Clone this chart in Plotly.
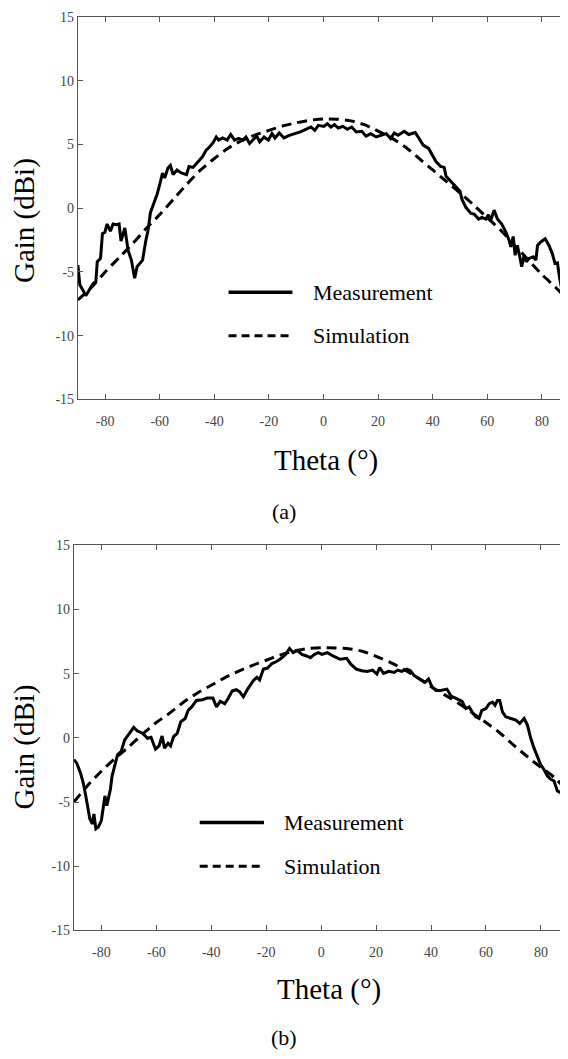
import plotly.graph_objects as go

THETA_A_MEAS = [-90, -89.3, -88.0, -87.1, -85.4, -84.4, -83.4, -82.9, -81.7, -81.0, -80.1, -79.3, -78.1,
                -77.1, -75.8, -74.9, -74.2, -73.4, -72.8, -71.6, -70.4, -69.2, -68.3, -67.3, -66.3, -65.1,
                -64.3, -63.4, -62.2, -61.0, -60.0, -59.0, -58.2, -57.0, -56.1, -55.1, -53.7, -52.1, -50.2,
                -49.3, -47.8, -45.9, -44.3, -43.0, -41.7, -40.3, -39.3, -38.4, -37.0, -35.3, -34.0, -32.6,
                -31.1, -29.5, -28.4, -27.1, -25.8, -24.5, -23.4, -21.8, -20.2, -18.9, -17.8, -16.2, -14.5,
                -12.5, -10.5, -8.5, -6.5, -4.6, -3.2, -1.9, 0.1, 1.4, 2.7, 4.0, 5.4, 7.1, 8.7, 10.3, 12.0,
                14.0, 15.6, 17.3, 19.3, 21.3, 23.0, 24.6, 25.9, 27.3, 29.6, 31.2, 33.6, 34.9, 36.5, 38.5,
                39.8, 41.2, 42.9, 44.2, 44.9, 46.7, 48.5, 50.0, 50.7, 52.2, 54.0, 55.2, 56.8, 58.0, 59.5,
                60.4, 61.3, 62.5, 63.7, 65.3, 66.8, 68.0, 68.6, 69.5, 70.2, 71.0, 71.9, 72.6, 73.5, 74.3,
                75.3, 76.8, 77.8, 78.4, 79.6, 81.2, 82.6, 83.8, 84.8, 85.7, 86.5, 87.3, 88.0, 88.4, 88.8, 90]
GAIN_A_MEAS = [-4.46, -6.0, -6.5, -6.86, -6.26, -5.9, -5.75, -4.2, -3.94, -2.0, -1.88, -1.24, -1.8,
               -1.24, -1.29, -1.24, -2.58, -2.0, -1.55, -3.3, -4.07, -5.49, -4.59, -4.33, -4.07, -2.53,
               -1.75, -0.33, 0.31, 1.08, 1.86, 2.76, 2.37, 3.15, 3.35, 2.63, 3.0, 2.76, 2.63,
               3.27, 3.2, 3.66, 4.05, 4.56, 4.82, 5.2, 5.59, 5.34, 5.51, 5.34, 5.78, 5.34,
               5.47, 5.34, 5.59, 5.08, 5.34, 5.67, 5.2, 5.59, 5.34, 5.85, 5.51, 5.9, 5.51,
               5.72, 5.85, 5.98, 6.19, 6.37, 6.11, 6.5, 6.42, 6.63, 6.37, 6.55, 6.29, 6.42, 6.19, 6.37, 5.98,
               6.03, 5.65, 5.85, 5.59, 5.72, 5.85, 5.47, 5.9, 5.72, 6.03, 5.78, 5.93, 5.51, 4.95, 4.69,
               4.18, 3.66, 3.27, 3.2, 2.5, 2.11, 1.65, 1.34, 0.70, 0.05, -0.41, -0.46, -0.85, -0.72, -0.85,
               -0.52, -0.93, -0.15, -0.85, -1.24, -1.88, -2.53, -3.04, -2.22, -3.69, -2.92, -3.81, -4.59, -3.69, -4.2,
               -3.94, -3.81, -4.07, -2.92, -2.65, -2.4, -2.92, -3.56, -4.33, -4.28, -5.49, -6.4, -6.78, -7.17, -9.36, -9.8]

# simulated gain, sampled every 5 degrees
THETA_SIM = [-90, -85, -80, -75, -70, -65, -60, -55, -50, -45, -40, -35, -30, -25, -20, -15, -10, -5, 0,
             5, 10, 15, 20, 25, 30, 35, 40, 45, 50, 55, 60, 65, 70, 75, 80, 85, 90]
GAIN_A_SIM = [-7.2, -6.2, -5.0, -3.9, -2.8, -1.6, -0.5, 0.7, 1.9, 3.0, 3.9, 4.7, 5.3, 5.75, 6.1, 6.45, 6.7, 6.9, 7.0,
              6.98, 6.85, 6.55, 6.05, 5.5, 4.8, 3.9, 3.0, 2.1, 1.2, 0.25, -0.75, -1.75, -2.9, -4.05, -5.2, -6.2, -7.3]

# (b) measured gain
THETA_B_MEAS = [-90, -89.0, -87.6, -86.6, -85.6, -84.8, -84.2, -83.3, -82.7, -82.0, -81.1, -80.0, -78.7,
                -78.0, -76.7, -76.1, -75.0, -74.1, -72.8, -71.5, -69.8, -68.2, -66.9, -64.9, -63.2, -61.9,
                -60.3, -59.0, -57.9, -57.0, -55.7, -54.8, -53.7, -52.4, -51.1, -49.5, -48.4, -47.1, -45.4,
                -43.2, -41.5, -39.4, -38.1, -36.7, -35.1, -33.9, -32.4, -30.9, -29.7, -28.3, -26.7, -24.7,
                -23.4, -22.4, -21.0, -19.5, -17.9, -16.2, -14.5, -12.9, -11.5, -10.2, -8.7, -7.0, -5.3,
                -3.9, -2.4, -1.0, 0.3, 2.3, 4.3, 6.9, 9.3, 10.8, 12.8, 14.8, 16.8, 18.7, 20.3, 21.3, 22.7,
                24.6, 26.6, 27.9, 29.3, 31.2, 32.5, 33.9, 35.8, 37.8, 39.1, 40.4, 41.8, 43.5, 45.8, 47.3,
                49.3, 51.3, 52.7, 53.9, 55.1, 56.3, 57.5, 58.5, 60.0, 61.2, 62.4, 63.3, 64.2, 65.0, 66.0,
                67.2, 69.1, 70.9, 72.3, 73.9, 75.1, 76.3, 77.5, 78.7, 79.9, 81.1, 82.4, 83.6, 84.8, 86.0,
                87.2, 88.4, 89.3, 90]
GAIN_B_MEAS = [-1.69, -1.95, -2.72, -3.5, -4.6, -5.54, -6.3, -6.7, -5.92, -7.08, -6.95, -6.44, -4.52,
               -5.28, -4.0, -2.98, -1.95, -1.31, -1.05, -0.15, 0.35, 0.82, 0.54, 0.35, -0.03, 0.05,
               -0.88, -0.62, 0.15, -0.8, -0.42, -0.62, 0.1, 0.35, 1.25, 1.51, 2.15, 2.41, 2.92,
               2.97, 3.1, 3.1, 2.41, 2.85, 2.66, 3.05, 3.65, 3.75, 3.6, 3.2, 3.82, 4.46,
               4.72, 4.51, 5.36, 5.44, 5.79, 5.95, 6.2, 6.51, 6.97, 6.64, 6.82, 6.51, 6.38,
               6.25, 6.51, 6.64, 6.51, 6.64, 6.38, 6.12, 6.2, 5.74, 5.36, 5.23, 5.18, 5.28, 4.97, 5.48, 5.02,
               5.18, 5.1, 5.28, 5.18, 5.36, 5.23, 4.85, 4.59, 4.33, 4.59, 3.95, 3.69, 3.7, 3.8, 3.25,
               3.05, 2.85, 2.28, 2.41, 1.97, 1.64, 1.51, 2.15, 2.28, 2.66, 2.79, 2.54, 2.92, 2.92, 2.02,
               1.64, 1.51, 1.38, 1.12, 1.51, 1.0, -0.03, -0.8, -1.44, -2.08, -2.46, -2.98, -3.23, -3.36, -4.13,
               -4.26, -4.9, -5.92, -6.3]
GAIN_B_SIM = [-5.0, -3.7, -2.6, -1.6, -0.7, 0.3, 1.2, 1.95, 2.8, 3.5, 4.1, 4.7, 5.2, 5.65, 6.05, 6.45, 6.75, 6.95, 7.02,
              7.0, 6.95, 6.75, 6.35, 5.9, 5.35, 4.7, 4.0, 3.35, 2.7, 1.95, 1.2, 0.4, -0.55, -1.45, -2.3, -3.1, -4.2]

X_TICKS = [-80, -60, -40, -20, 0, 20, 40, 60, 80]
X_TICKTEXT = ["-80", "-60", "-40", "-20", "0", "20", "40", "60", "80"]
Y_TICKS = [-15, -10, -5, 0, 5, 10, 15]
Y_TICKTEXT = ["-15", "-10", "-5", "0", "5", "10", "15"]
LEGEND_NAMES = ["Measurement", "Simulation"]
PANEL_LABELS = ["(a)", "(b)"]

# the page body has an 8px margin, so the figure is sized to fill what is left of the window
OFF = 8
W, H = 568 - OFF, 1059 - OFF
SERIF = "Liberation Serif"
AXIS_GREY = "#555555"


def fx(px):
    return (px - OFF) / W


def fy(py):
    return 1 - (py - OFF) / H


fig = go.Figure()

panels = [
    dict(x="x", y="y", meas=(THETA_A_MEAS, GAIN_A_MEAS), sim=GAIN_A_SIM),
    dict(x="x2", y="y2", meas=(THETA_B_MEAS, GAIN_B_MEAS), sim=GAIN_B_SIM),
]
for p in panels:
    fig.add_trace(go.Scatter(x=p["meas"][0], y=p["meas"][1], mode="lines", name=LEGEND_NAMES[0],
                             line=dict(color="black", width=3), xaxis=p["x"], yaxis=p["y"],
                             showlegend=False))
    fig.add_trace(go.Scatter(x=THETA_SIM, y=p["sim"], mode="lines", name=LEGEND_NAMES[1],
                             line=dict(color="black", width=3, dash="10px,6px", shape="spline", smoothing=0.6),
                             xaxis=p["x"], yaxis=p["y"], showlegend=False))

xax = dict(range=[-90, 89.2], tickvals=X_TICKS, ticktext=X_TICKTEXT, ticks="inside", ticklen=5,
           tickcolor=AXIS_GREY, showline=True, linecolor=AXIS_GREY, linewidth=1, mirror="ticks",
           showgrid=False, zeroline=False, ticklabelstandoff=9,
           tickfont=dict(family=SERIF, size=14, color="#444444"))
yax = dict(range=[-15, 15], tickvals=Y_TICKS, ticktext=Y_TICKTEXT, ticks="inside", ticklen=5,
           tickcolor=AXIS_GREY, showline=True, linecolor=AXIS_GREY, linewidth=1, mirror="ticks",
           showgrid=False, zeroline=False, ticklabelstandoff=0,
           tickfont=dict(family=SERIF, size=14, color="#444444"))

fig.update_layout(
    width=W, height=H,
    margin=dict(l=0, r=0, t=0, b=0),
    paper_bgcolor="white", plot_bgcolor="white",
    xaxis=dict(xax, domain=[fx(78), 1], anchor="y"),
    yaxis=dict(yax, domain=[fy(398), fy(10)], anchor="x"),
    xaxis2=dict(xax, domain=[fx(74), 1], anchor="y2", range=[-90, 89.5]),
    yaxis2=dict(yax, domain=[fy(936.7), fy(546)], anchor="x2"),
    showlegend=False,
)

# legend samples drawn inside each panel
legend_pos = [
    dict(xr="x", yr="y", x0=-34.8, x1=-11.4, xt=-4.6),
    dict(xr="x2", yr="y2", x0=-44.2, x1=-20.8, xt=-14.2),
]
for lp in legend_pos:
    for name, yv, solid in [(LEGEND_NAMES[0], -6.6, True), (LEGEND_NAMES[1], -10.0, False)]:
        fig.add_shape(type="line", xref=lp["xr"], yref=lp["yr"], x0=lp["x0"], x1=lp["x1"], y0=yv, y1=yv,
                      line=dict(color="black", width=3.5 if solid else 3,
                                dash="solid" if solid else "8px,5px"))
        fig.add_annotation(xref=lp["xr"], yref=lp["yr"], x=lp["xt"], y=yv, text=name, showarrow=False,
                           xanchor="left", yanchor="middle",
                           font=dict(family=SERIF, size=22, color="black"))

# axis titles and panel captions (reference pixel centres)
texts = [
    ("Gain (dBi)", 24, 216, -90, 29),
    ("Theta (°)", 327, 460, 0, 29),
    (PANEL_LABELS[0], 284, 512, 0, 22),
    ("Gain (dBi)", 24, 750, -90, 29),
    ("Theta (°)", 330, 997, 0, 29),
    (PANEL_LABELS[1], 284, 1045, 0, 22),
]
for txt, px, py, ang, size in texts:
    fig.add_annotation(xref="paper", yref="paper", x=fx(px), y=fy(py), text=txt, showarrow=False,
                       xanchor="center", yanchor="middle", textangle=ang,
                       font=dict(family=SERIF, size=size, color="black"))

fig.write_html("out.html")
